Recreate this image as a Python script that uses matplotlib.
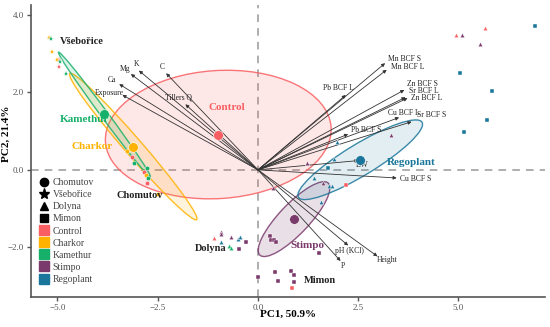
import matplotlib
matplotlib.use('Agg')
import matplotlib.pyplot as plt
from matplotlib.patches import Ellipse
from matplotlib.lines import Line2D

plt.rcParams['font.family'] = ['Liberation Serif', 'DejaVu Serif']

# treatments and colours
treatments = ['Control', 'Charkor', 'Kamethur', 'Stimpo', 'Regoplant']
colors = ['#F95F62', '#FFB300', '#17B06B', '#7B3A6C', '#1A779B']
sites = ['Chomutov', 'Všebořice', 'Dolyna', 'Mimon']
site_markers = ['o', '*', '^', 's']

# sample scores (PC1, PC2, site, treatment)
pc1 = [-5.20, -5.15, -5.14, -5.00, -4.95, -4.94, -4.95, -4.79,
       -3.27, -3.13, -3.09, -2.77, -2.85, -2.79, -2.75, -2.77, -2.49,
       -1.10, -0.92, -0.91, -0.92, -0.67, -0.51, -0.45, -0.72, -0.66,
       -0.31, -0.48,
       0.30, 0.32, 0.40, 0.45, 1.52, 0.00, 0.43, 0.51, 0.82, 0.90, 0.89, 0.85,
       1.97, 3.32, 1.89, 1.22, 1.74, 1.41, 1.76, 1.84, 2.20, 1.57, 0.38, 1.63,
       5.67, 4.95, 5.08, 5.55, 6.91, 5.05, 5.84, 5.71, 5.15]
pc2 = [3.41, 3.38, 3.03, 2.83, 2.83, 2.77, 2.64, 2.48,
       0.49, 0.34, 0.18, 0.05, -0.05, -0.14, -0.20, -0.34, -0.62,
       -1.76, -1.60, -1.66, -1.85, -1.74, -1.78, -1.72, -1.96, -2.02,
       -1.86, -2.04,
       -1.71, -1.82, -1.80, -1.87, -2.14, -2.76, -2.63, -2.87, -2.62, -2.70, -2.90, -3.04,
       0.71, 0.90, 0.28, 0.17, 0.06, -0.20, -0.41, -0.41, -0.39, -0.84, -0.47, -0.33,
       3.67, 3.48, 3.48, 3.24, 3.71, 2.49, 2.03, 1.28, 0.98]
site = ['Všebořice'] * 8 + ['Chomutov'] * 9 + ['Dolyna'] * 9 + ['Mimon'] * 2 + \
       ['Mimon'] * 12 + \
       ['Dolyna', 'Dolyna', 'Dolyna', 'Dolyna', 'Mimon', 'Dolyna', 'Dolyna', 'Dolyna', 'Mimon', 'Dolyna', 'Dolyna', 'Dolyna'] + \
       ['Dolyna'] * 4 + ['Mimon'] * 5
treat = ['Charkor', 'Kamethur', 'Charkor', 'Charkor', 'Control', 'Kamethur', 'Control', 'Kamethur',
         'Charkor', 'Control', 'Kamethur', 'Kamethur', 'Control', 'Charkor', 'Kamethur', 'Control', 'Charkor',
         'Control', 'Stimpo', 'Stimpo', 'Regoplant', 'Stimpo', 'Regoplant', 'Regoplant', 'Kamethur', 'Kamethur',
         'Stimpo', 'Stimpo',
         'Stimpo', 'Stimpo', 'Stimpo', 'Stimpo', 'Stimpo', 'Stimpo', 'Stimpo', 'Stimpo', 'Stimpo', 'Stimpo', 'Stimpo', 'Control',
         'Regoplant', 'Stimpo', 'Regoplant', 'Stimpo', 'Regoplant', 'Regoplant', 'Regoplant', 'Regoplant', 'Control',
         'Regoplant', 'Stimpo', 'Stimpo',
         'Control', 'Control', 'Stimpo', 'Stimpo', 'Regoplant', 'Regoplant', 'Regoplant', 'Regoplant', 'Regoplant']

# treatment centroids and confidence ellipses
cen_x = [-0.99, -3.11, -3.83, 0.90, 2.55]
cen_y = [0.91, 0.60, 1.43, -1.27, 0.26]
ell_a = [2.82, 2.46, 1.97, 1.26, 1.82]
ell_b = [1.65, 0.22, 0.09, 0.38, 0.40]
ell_ang = [4, -50, -54.5, 47.6, 32.2]
ell_alpha = [0.15, 0.14, 0.14, 0.16, 0.12]

# loadings
var_names = ['C', 'K', 'Mg', 'Ca', 'Exposure', 'Tillers Q', 'Mn BCF S', 'Mn BCF L', 'Pb BCF L',
             'Zn BCF S', 'Sr BCF L', 'Zn BCF L', 'Cu BCF L', 'Sr BCF S', 'Pb BCF S', 'DW',
             'Cu BCF S', 'pH (KCl)', 'P', 'Height']
load_x = [-2.29, -2.97, -3.17, -3.46, -3.38, -1.81, 3.17, 3.21, 2.19,
          3.65, 3.68, 3.73, 3.52, 3.83, 2.25, 2.51, 3.46, 2.25, 2.06, 2.98]
load_y = [2.49, 2.56, 2.47, 2.21, 1.93, 1.69, 2.75, 2.58, 1.93,
          2.06, 1.87, 1.85, 1.35, 1.24, 0.92, 0.24, -0.21, -1.95, -2.35, -2.23]
lab_x = [-2.39, -3.04, -3.32, -3.63, -3.71, -1.99, 3.25, 3.31, 2.0,
         3.71, 3.77, 3.82, 3.25, 3.96, 2.31, 2.61, 3.54, 2.29, 2.11, 3.22]
lab_y = [2.65, 2.74, 2.60, 2.32, 1.98, 1.86, 2.86, 2.65, 2.1,
         2.21, 2.04, 1.86, 1.46, 1.42, 1.03, 0.12, -0.24, -2.1, -2.49, -2.33]
lab_ha = ['center', 'center', 'center', 'center', 'center', 'center', 'left', 'left', 'center',
          'left', 'left', 'left', 'left', 'left', 'left', 'center', 'left', 'center', 'center', 'center']

# group / site text labels
site_lab = ['Všebořice', 'Chomutov', 'Dolyna', 'Mimon']
site_lab_x = [-4.93, -3.54, -1.57, 1.15]
site_lab_y = [3.30, -0.66, -2.04, -2.86]
treat_lab_x = [-0.77, -4.64, -4.93, 0.82, 3.22]
treat_lab_y = [1.60, 0.59, 1.29, -1.96, 0.20]
treat_lab_ha = ['center', 'left', 'left', 'left', 'left']

fig = plt.figure(figsize=(5.5, 3.27), dpi=100)
ax = fig.add_axes([0.0564, 0.0927, 0.9346, 0.892])
ax.set_xlim(-5.66, 7.16)
ax.set_ylim(-3.27, 4.25)

ax.axhline(0, color='#999999', lw=1.1, ls=(0, (5, 4)), zorder=1)
ax.axvline(0, color='#999999', lw=1.1, ls=(0, (5, 4)), zorder=1)

for i, t in enumerate(treatments):
    e = Ellipse((cen_x[i], cen_y[i]), 2 * ell_a[i], 2 * ell_b[i], angle=ell_ang[i],
                facecolor=colors[i], alpha=ell_alpha[i], edgecolor='none', zorder=2)
    ax.add_patch(e)
    e2 = Ellipse((cen_x[i], cen_y[i]), 2 * ell_a[i], 2 * ell_b[i], angle=ell_ang[i],
                 facecolor='none', edgecolor=colors[i], lw=1.0, alpha=0.85, zorder=2)
    ax.add_patch(e2)

# loading arrows
for i, v in enumerate(var_names):
    ax.annotate('', xy=(load_x[i], load_y[i]), xytext=(0, 0),
                arrowprops=dict(arrowstyle='-|>', color='#333333', lw=0.6,
                                mutation_scale=5, shrinkA=0, shrinkB=0), zorder=3)
    ax.text(lab_x[i], lab_y[i], v, fontsize=5.5, ha=lab_ha[i], va='center', color='#222222', zorder=5)

# samples
for s, m in zip(sites, site_markers):
    for t, c in zip(treatments, colors):
        xs = [pc1[k] for k in range(len(pc1)) if site[k] == s and treat[k] == t]
        ys = [pc2[k] for k in range(len(pc2)) if site[k] == s and treat[k] == t]
        if xs:
            ax.plot(xs, ys, ls='none', marker=m, ms=3.2 if m != '*' else 4, color=c,
                    mec='white', mew=0.3, zorder=4)

# centroids
for i, t in enumerate(treatments):
    ax.plot(cen_x[i], cen_y[i], 'o', ms=7, color=colors[i], mec='white', mew=0.4, zorder=5)
    ax.text(treat_lab_x[i], treat_lab_y[i], t, fontsize=8, ha=treat_lab_ha[i], va='center',
            color=colors[i], fontweight='bold', zorder=6)

for i, s in enumerate(site_lab):
    ax.text(site_lab_x[i], site_lab_y[i], s, fontsize=7.5, fontweight='bold', ha='left',
            va='center', color='#222222', zorder=6)

# legend
handles = []
for s, m in zip(sites, site_markers):
    handles.append(Line2D([], [], ls='none', marker=m, color='black', ms=6 if m != '*' else 8, label=s))
for t, c in zip(treatments, colors):
    handles.append(Line2D([], [], ls='none', marker='s', color=c, ms=7, label=t))
leg = ax.legend(handles=handles, loc='upper left', bbox_to_anchor=(0.0, 0.43), frameon=False,
                fontsize=7, labelspacing=0.32, handletextpad=0.3, handlelength=1.2,
                borderpad=0.2, labelcolor='#444444')

for sp in ['top', 'right']:
    ax.spines[sp].set_visible(False)
for sp in ['left', 'bottom']:
    ax.spines[sp].set_color('#555555')
    ax.spines[sp].set_linewidth(1.2)

ax.set_xticks([-5.0, -2.5, 0.0, 2.5, 5.0])
ax.set_xticklabels(['\u22125.0', '\u22122.5', '0.0', '2.5', '5.0'])
ax.set_yticks([-2.0, 0.0, 2.0, 4.0])
ax.set_yticklabels(['\u22122.0', '0.0', '2.0', '4.0'])
ax.tick_params(labelsize=6.5, colors='#555555', length=3, width=1, pad=2)

ax.set_xlabel('PC1, 50.9%', fontsize=8, fontweight='bold')
ax.xaxis.set_label_coords(0.5, -0.045)
ax.set_ylabel('PC2, 21.4%', fontsize=8, fontweight='bold')
ax.yaxis.set_label_coords(-0.04, 0.56)

fig.savefig('out.png', dpi=100)
